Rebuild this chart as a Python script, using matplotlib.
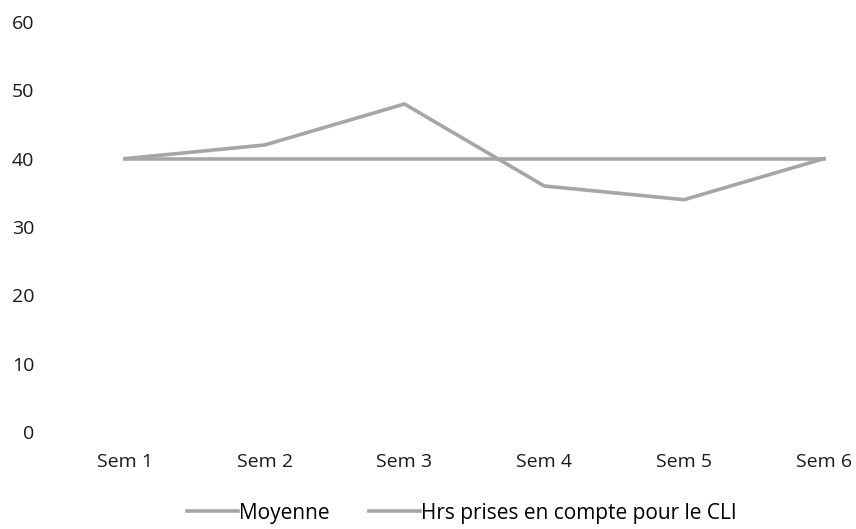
import numpy as np
import matplotlib.pyplot as plt

# Data
weeks = ['Sem 1', 'Sem 2', 'Sem 3', 'Sem 4', 'Sem 5', 'Sem 6']
moyenne = [40, 40, 40, 40, 40, 40]
hrs_cli = [40, 42, 48, 36, 34, 40]
y_ticks = [0, 10, 20, 30, 40, 50, 60]

plt.rcParams['font.family'] = ['Open Sans', 'DejaVu Sans']

fig = plt.figure(figsize=(8.56, 5.29), dpi=100)
ax = fig.add_axes([55 / 856, 97 / 529, 801 / 856, 410 / 529])

x = np.arange(len(weeks))
ax.plot(x, moyenne, color='#a6a6a6', lw=2.6, label='Moyenne')
ax.plot(x, hrs_cli, color='#a6a6a6', lw=2.6, label='Hrs prises en compte pour le CLI')

ax.set_xlim(-0.5, 5.23)
ax.set_ylim(0, 60)
ax.set_xticks(x)
ax.set_xticklabels(weeks)
ax.set_yticks(y_ticks)
for s in ax.spines.values():
    s.set_visible(False)
ax.tick_params(axis='both', length=0, labelsize=14, colors='#1a1a1a')
ax.tick_params(axis='x', pad=15)
ax.tick_params(axis='y', pad=15)

fig.legend(loc='center left', bbox_to_anchor=(187 / 856, 1 - 513 / 529), ncol=2,
           frameon=False, fontsize=15, handlelength=2.45, handletextpad=0.05,
           columnspacing=1.9, borderpad=0, borderaxespad=0)

fig.savefig('out.png', dpi=100)
